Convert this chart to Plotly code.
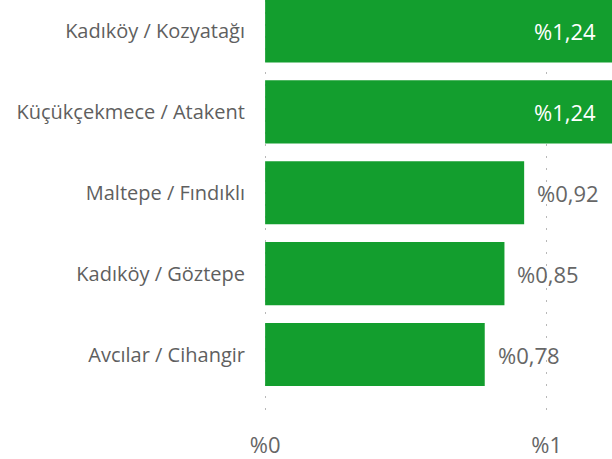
import plotly.graph_objects as go

categories = [
    "Kadıköy / Kozyatağı",
    "Küçükçekmece / Atakent",
    "Maltepe / Fındıklı",
    "Kadıköy / Göztepe",
    "Avcılar / Cihangir",
]
values = [1.24, 1.24, 0.92, 0.85, 0.78]
tick_vals = [0, 1]
tick_text = ["%0", "%1"]

X_MIN, X_MAX = -0.004, 1.232
FONT = "Open Sans, Segoe UI, sans-serif"
GREEN = "#139e2e"
GRAY = "#666666"

fig = go.Figure(
    go.Bar(
        x=values,
        y=categories,
        orientation="h",
        marker=dict(color=GREEN, line=dict(width=0)),
        hoverinfo="skip",
    )
)

# value labels: inside (white) when the bar runs past the axis, outside otherwise
for cat, v in zip(categories, values):
    label = "%" + f"{v:.2f}".replace(".", ",")
    if v > X_MAX:
        fig.add_annotation(
            x=X_MAX, y=cat, text=label, showarrow=False,
            xanchor="right", xshift=-14,
            font=dict(size=22, color="#ffffff", family=FONT),
        )
    else:
        fig.add_annotation(
            x=v, y=cat, text=label, showarrow=False,
            xanchor="left", xshift=11,
            font=dict(size=22, color=GRAY, family=FONT),
        )

fig.update_layout(
    width=612,
    height=459,
    paper_bgcolor="white",
    plot_bgcolor="white",
    bargap=0.22,
    showlegend=False,
    margin=dict(l=264, r=0, t=0, b=41),
    font=dict(family=FONT, color=GRAY),
)

fig.update_xaxes(
    range=[X_MIN, X_MAX],
    tickvals=tick_vals,
    ticktext=tick_text,
    tickfont=dict(size=22, color=GRAY),
    showgrid=True,
    gridcolor="#b8b8b8",
    griddash="2px,10px",
    gridwidth=1,
    zeroline=False,
    showline=False,
    ticks="outside",
    ticklen=8,
    tickcolor="rgba(0,0,0,0)",
)

fig.update_yaxes(
    categoryorder="array",
    categoryarray=categories,
    range=[4.785, -0.383],
    tickfont=dict(size=20, color="#5f5f5f"),
    ticks="outside",
    ticklen=14,
    tickcolor="rgba(0,0,0,0)",
    showgrid=False,
    zeroline=False,
    showline=False,
)

fig.write_html(
    "out.html",
    config={"displayModeBar": False},
    post_script="document.body.style.margin='0';",
)
